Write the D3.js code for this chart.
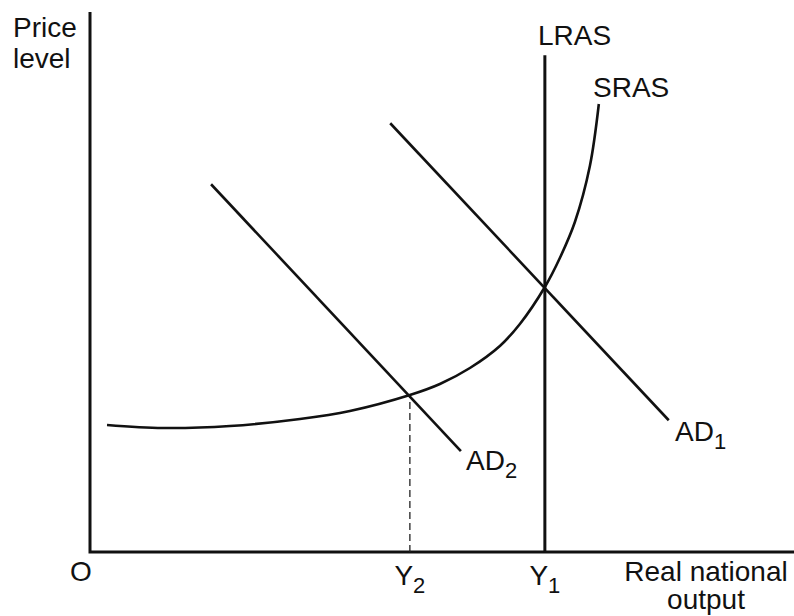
<!DOCTYPE html>
<html>
<head>
<meta charset="utf-8">
<script src="https://cdn.jsdelivr.net/npm/d3@7"></script>
<style>
  html, body { margin: 0; padding: 0; background: #fff; }
  svg { display: block; font-family: "Liberation Sans", Arial, sans-serif; }
</style>
</head>
<body>
<svg id="chart" width="794" height="616"></svg>
<script>
// ---- data (chart units: x = real national output, y = price level) ----
const srasX = [2.43, 10.43, 20.0, 30.0, 37.14, 45.71, 50.0, 54.29, 58.57, 61.43, 65.0, 67.14, 69.29, 71.43, 72.71];
const srasY = [23.52, 22.96, 23.33, 24.63, 26.11, 29.07, 31.11, 34.07, 38.15, 42.22, 49.07, 54.44, 61.11, 71.48, 82.96];
const ad1X = [42.9, 82.7];
const ad1Y = [79.4, 24.4];
const ad2X = [17.3, 53.0];
const ad2Y = [68.1, 18.7];
const lrasX = 65.0;
const lrasTop = 92;
const y1Value = 65.0;
const y2Value = 45.71;
const y2Price = 29.07;
const xTickLabels = [{v: y2Value, main: "Y", sub: "2"}, {v: y1Value, main: "Y", sub: "1"}];

const zip = (a, b) => a.map((v, i) => [v, b[i]]);

const svg = d3.select("#chart");
const x = d3.scaleLinear().domain([0, 100.6]).range([90, 794]);
const y = d3.scaleLinear().domain([0, 100]).range([552, 12]);
const line = d3.line().x(d => x(d[0])).y(d => y(d[1]));

// axes
svg.append("path")
  .attr("d", line([[0,100],[0,0],[100.6,0]]))
  .attr("fill", "none").attr("stroke", "#111").attr("stroke-width", 3);

// dashed Y2 guide
svg.append("path")
  .attr("d", line([[y2Value,0],[y2Value,y2Price]]))
  .attr("fill", "none").attr("stroke", "#222").attr("stroke-width", 1.3)
  .attr("stroke-dasharray", "7,4");

// LRAS
svg.append("path")
  .attr("d", line([[lrasX,0],[lrasX,lrasTop]]))
  .attr("fill", "none").attr("stroke", "#111").attr("stroke-width", 3);

// AD lines
[zip(ad1X, ad1Y), zip(ad2X, ad2Y)].forEach(pts => {
  svg.append("path").attr("d", line(pts))
    .attr("fill", "none").attr("stroke", "#111").attr("stroke-width", 2.6);
});

// SRAS curve
svg.append("path")
  .attr("d", d3.line().x(d => x(d[0])).y(d => y(d[1])).curve(d3.curveCatmullRom.alpha(0.5))(zip(srasX, srasY)))
  .attr("fill", "none").attr("stroke", "#111").attr("stroke-width", 2.6);

// text helpers
const fs = 28, subFs = 22;
function label(xp, yp, main, sub, anchor) {
  const t = svg.append("text").attr("x", xp).attr("y", yp)
    .attr("font-size", fs).attr("fill", "#111").attr("text-anchor", anchor || "start");
  t.append("tspan").text(main);
  if (sub) t.append("tspan").attr("font-size", subFs).attr("dy", 8).text(sub);
  return t;
}

label(13, 37, "Price");
label(13, 68, "level");
label(538, 45, "LRAS");
label(593, 97, "SRAS");
label(675, 441, "AD", "1");
label(466, 470, "AD", "2");
label(81, 581, "O", null, "middle");
xTickLabels.forEach(d => label(x(d.v), 585, d.main, d.sub, "middle"));
label(706, 581, "Real national", null, "middle");
label(706, 609, "output", null, "middle");
</script>
</body>
</html>
